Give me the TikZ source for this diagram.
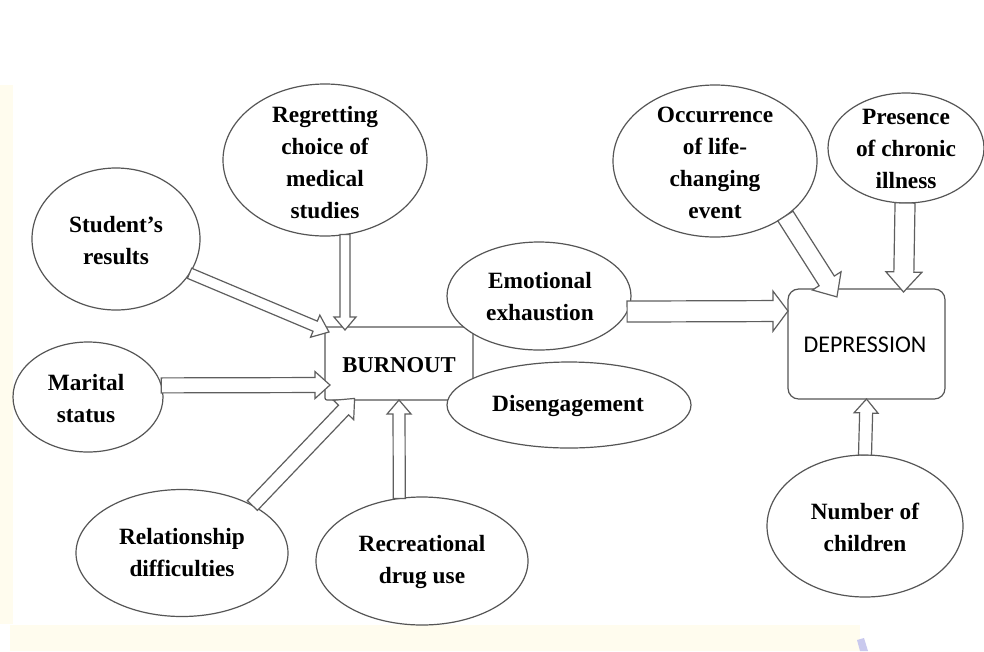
\documentclass[tikz,border=0pt]{standalone}
\usepackage{fontspec}
\setmainfont{Liberation Serif}
\newfontfamily\depfont{Carlito}
\usetikzlibrary{calc,shapes.geometric}
\definecolor{lc}{HTML}{555555}
\definecolor{ac}{HTML}{5E5E5E}
\definecolor{cream}{HTML}{FFFCEE}
\definecolor{blob}{HTML}{C9C9EE}
\tikzset{
  ell/.style={ellipse, draw=lc, line width=0.9pt, fill=white, inner sep=0pt, outer sep=0pt},
  lbl/.style={align=center, font=\fontsize{17.5}{24}\selectfont\bfseries, text=black, inner sep=0pt},
  boxb/.style={rectangle, draw=lc, line width=0.9pt, fill=white, inner sep=0pt, outer sep=0pt, rounded corners=1.5pt},
  boxd/.style={rectangle, draw=lc, line width=0.9pt, fill=white, inner sep=0pt, outer sep=0pt, rounded corners=8pt},
  barrowstyle/.style={draw=ac, line width=0.9pt, fill=white, line join=miter}
}
% hollow block arrow: #1 half shaft, #2 half head, #3 head length (px), #4 from, #5 to
\newcommand\blockarr[5]{%
  \path (#4) coordinate (bA) (#5) coordinate (bB);
  \path let \p1=(bA), \p2=(bB), \n1={atan2(\y2-\y1,\x2-\x1)}, \n2={veclen(\x2-\x1,\y2-\y1)} in
    \pgfextra{\pgfmathsetmacro\tmpang{\n1}\pgfmathsetmacro\tmplen{\n2/0.75}\xdef\myang{\tmpang}\xdef\mylen{\tmplen}};
  \draw[barrowstyle, shift={(bA)}, rotate=\myang]
    (0,-#1) -- ({\mylen-#3},-#1) -- ({\mylen-#3},-#2) -- (\mylen,0) -- ({\mylen-#3},#2) -- ({\mylen-#3},#1) -- (0,#1) -- cycle;
}
\begin{document}
\begin{tikzpicture}[x=0.75pt,y=-0.75pt]
\useasboundingbox (0,0) rectangle (984,651);
% background
\fill[white] (0,0) rectangle (984,651);
\fill[cream] (0,85) rectangle (13,624);
\fill[cream] (10,625) rectangle (860,651);
\fill[blob] (857,640) -- (864,638) -- (868,651) -- (860,651) -- cycle;

% boxes
\node[boxb, minimum width=148*0.75pt, minimum height=73*0.75pt] (burn) at (399,363.5) {};
\node[boxd, minimum width=157*0.75pt, minimum height=110*0.75pt] (dep) at (866.5,344) {};
\node[lbl, font=\fontsize{17}{20}\selectfont\bfseries] (burnT) at (399,365) {BURNOUT};
\node[inner sep=0pt, font=\depfont\fontsize{18}{20}\selectfont] (depT) at (865,345) {DEPRESSION};

% ellipses
\node[ell, minimum width=204*0.75pt, minimum height=152*0.75pt] (reg) at (325,160) {};
\node[ell, minimum width=168*0.75pt, minimum height=142*0.75pt] (stud) at (116,239) {};
\node[ell, minimum width=150*0.75pt, minimum height=110*0.75pt] (mar) at (88,397) {};
\node[ell, minimum width=212*0.75pt, minimum height=127*0.75pt] (rel) at (182,553) {};
\node[ell, minimum width=212*0.75pt, minimum height=128*0.75pt] (rec) at (422,561) {};
\node[ell, minimum width=184*0.75pt, minimum height=108*0.75pt] (emo) at (539,296) {};
\node[ell, minimum width=244*0.75pt, minimum height=86*0.75pt] (dis) at (569,405) {};
\node[ell, minimum width=204*0.75pt, minimum height=152*0.75pt] (occ) at (715,161) {};
\node[ell, minimum width=156*0.75pt, minimum height=110*0.75pt] (pre) at (906,148) {};
\node[ell, minimum width=196*0.75pt, minimum height=142*0.75pt] (num) at (865,526) {};

% labels
\node[lbl] (regT) at (325,163) {Regretting\\choice of\\medical\\studies};
\node[lbl] (studT) at (116,241) {Student’s\\results};
\node[lbl] (marT) at (86,399) {Marital\\status};
\node[lbl] (relT) at (182,553) {Relationship\\difficulties};
\node[lbl] (recT) at (422,562) {Recreational\\drug use};
\node[lbl] (emoT) at (540,297) {Emotional\\exhaustion};
\node[lbl] (disT) at (568,406) {Disengagement};
\node[lbl] (occT) at (715,163) {Occurrence\\of life-\\changing\\event};
\node[lbl] (preT) at (906,149) {Presence\\of chronic\\illness};
\node[lbl] (numT) at (865,527) {Number of\\children};

% arrows
\blockarr{5.5}{12}{15}{stud.-25}{$(burn.north west)+(4,5)$}
\blockarr{5}{11}{13}{reg.-75}{$(burn.north west)+(20,3)$}
\blockarr{7.5}{13.5}{15}{mar.9}{$(burn.south west)+(5,-15)$}
\blockarr{7}{14}{16}{rel.34}{$(burn.south west)+(30,-2)$}
\blockarr{6}{12}{14}{rec.110}{burn.south}
\blockarr{10.5}{20}{15}{emo.-10}{$(dep.north west)+(0,22)$}
\blockarr{9}{17}{19}{occ.-38}{$(dep.north west)+(49,8)$}
\blockarr{10}{18}{20}{pre.-91}{$(dep.north)+(37,3)$}
\blockarr{6.5}{12}{14}{num.north}{dep.south}
\end{tikzpicture}
\end{document}
